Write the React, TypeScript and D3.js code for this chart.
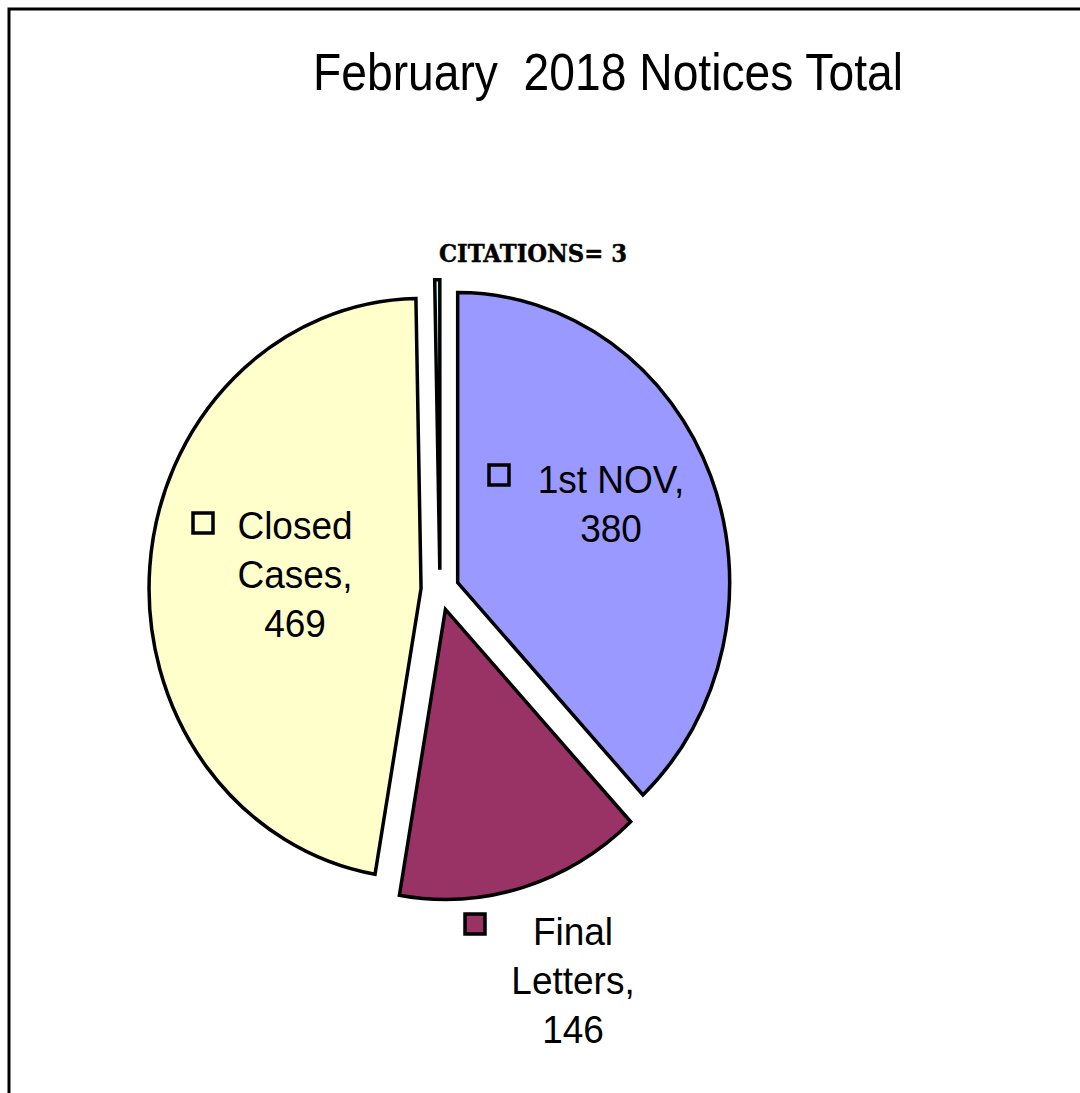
import React, { useEffect, useRef } from 'react';
import * as d3 from 'd3';

const categories = ['1st NOV', 'Final Letters', 'Closed Cases', 'CITATIONS'];
const values = [380, 146, 469, 3];
const colors = ['#9999FF', '#993366', '#FFFFCC', '#CCFFFF'];
// label lines per slice (citations label drawn separately, bold serif)
const labelLines = [['1st NOV,', '380'], ['Final', 'Letters,', '146'], ['Closed', 'Cases,', '469'], []];

const App: React.FC = () => {
  const svgRef = useRef<SVGSVGElement>(null);

  useEffect(() => {
    if (!svgRef.current) return;
    const svg = d3.select(svgRef.current);
    svg.selectAll('*').remove();

    const width = 1080;
    const height = 1093;
    const cx = 440;
    const cy = 590;
    const radius = 272;
    const ky = 290 / 272; // picture is stretched vertically
    const explode = 19;

    // frame
    svg
      .append('rect')
      .attr('x', 9)
      .attr('y', 9)
      .attr('width', width + 100)
      .attr('height', height + 100)
      .attr('fill', 'white')
      .attr('stroke', 'black')
      .attr('stroke-width', 3);

    svg
      .append('text')
      .attr('transform', `translate(313,90) scale(1,${ky})`)
      .attr('font-family', 'Liberation Sans, Arial, sans-serif')
      .attr('font-size', 48)
      .attr('textLength', 590)
      .attr('lengthAdjust', 'spacingAndGlyphs')
      .style('white-space', 'pre')
      .text('February  2018 Notices Total');

    const pie = d3
      .pie<number>()
      .sort(null)
      .value((d) => d)
      .startAngle(0)
      .endAngle(2 * Math.PI);
    const arcs = pie(values);
    const arc = d3.arc<d3.PieArcDatum<number>>().innerRadius(0).outerRadius(radius);

    const g = svg.append('g').attr('transform', `translate(${cx},${cy}) scale(1,${ky})`);

    g.selectAll('path')
      .data(arcs)
      .enter()
      .append('path')
      .attr('d', arc)
      .attr('transform', (d) => {
        const a = (d.startAngle + d.endAngle) / 2;
        return `translate(${Math.sin(a) * explode},${-Math.cos(a) * explode})`;
      })
      .attr('fill', (_, i) => colors[i])
      .attr('stroke', 'black')
      .attr('stroke-width', 3.5)
      .attr('stroke-linejoin', 'miter')
      .attr('vector-effect', 'non-scaling-stroke');

    // data labels (centre x, first baseline, key square position)
    const labelPos = [
      { x: 611, y: 493, kx: 489, ky: 465 },
      { x: 573, y: 945, kx: 465, ky: 914 },
      { x: 295, y: 539, kx: 193, ky: 513 },
    ];
    const lineH = 49;

    labelPos.forEach((p, i) => {
      svg
        .append('rect')
        .attr('x', p.kx)
        .attr('y', p.ky)
        .attr('width', 20)
        .attr('height', 20)
        .attr('fill', colors[i])
        .attr('stroke', 'black')
        .attr('stroke-width', 3.5);
      labelLines[i].forEach((line, j) => {
        svg
          .append('text')
          .attr('transform', `translate(${p.x},${p.y + j * lineH}) scale(1,${ky})`)
          .attr('font-family', 'Liberation Sans, Arial, sans-serif')
          .attr('font-size', 37)
          .attr('text-anchor', 'middle')
          .text(line);
      });
    });

    svg
      .append('text')
      .attr('transform', `translate(439,262) scale(1,${ky})`)
      .attr('font-family', 'DejaVu Serif, serif')
      .attr('font-weight', 'bold')
      .attr('font-size', 22)
      .attr('textLength', 188)
      .attr('lengthAdjust', 'spacingAndGlyphs')
      .attr('stroke', 'black')
      .attr('stroke-width', 0.4)
      .text(`${categories[3]}= ${values[3]}`);
  }, []);

  return (
    <div style={{ position: 'absolute', left: 0, top: 0 }}>
      <svg ref={svgRef} width="1080" height="1093" style={{ display: 'block' }}></svg>
    </div>
  );
};

export default App;
